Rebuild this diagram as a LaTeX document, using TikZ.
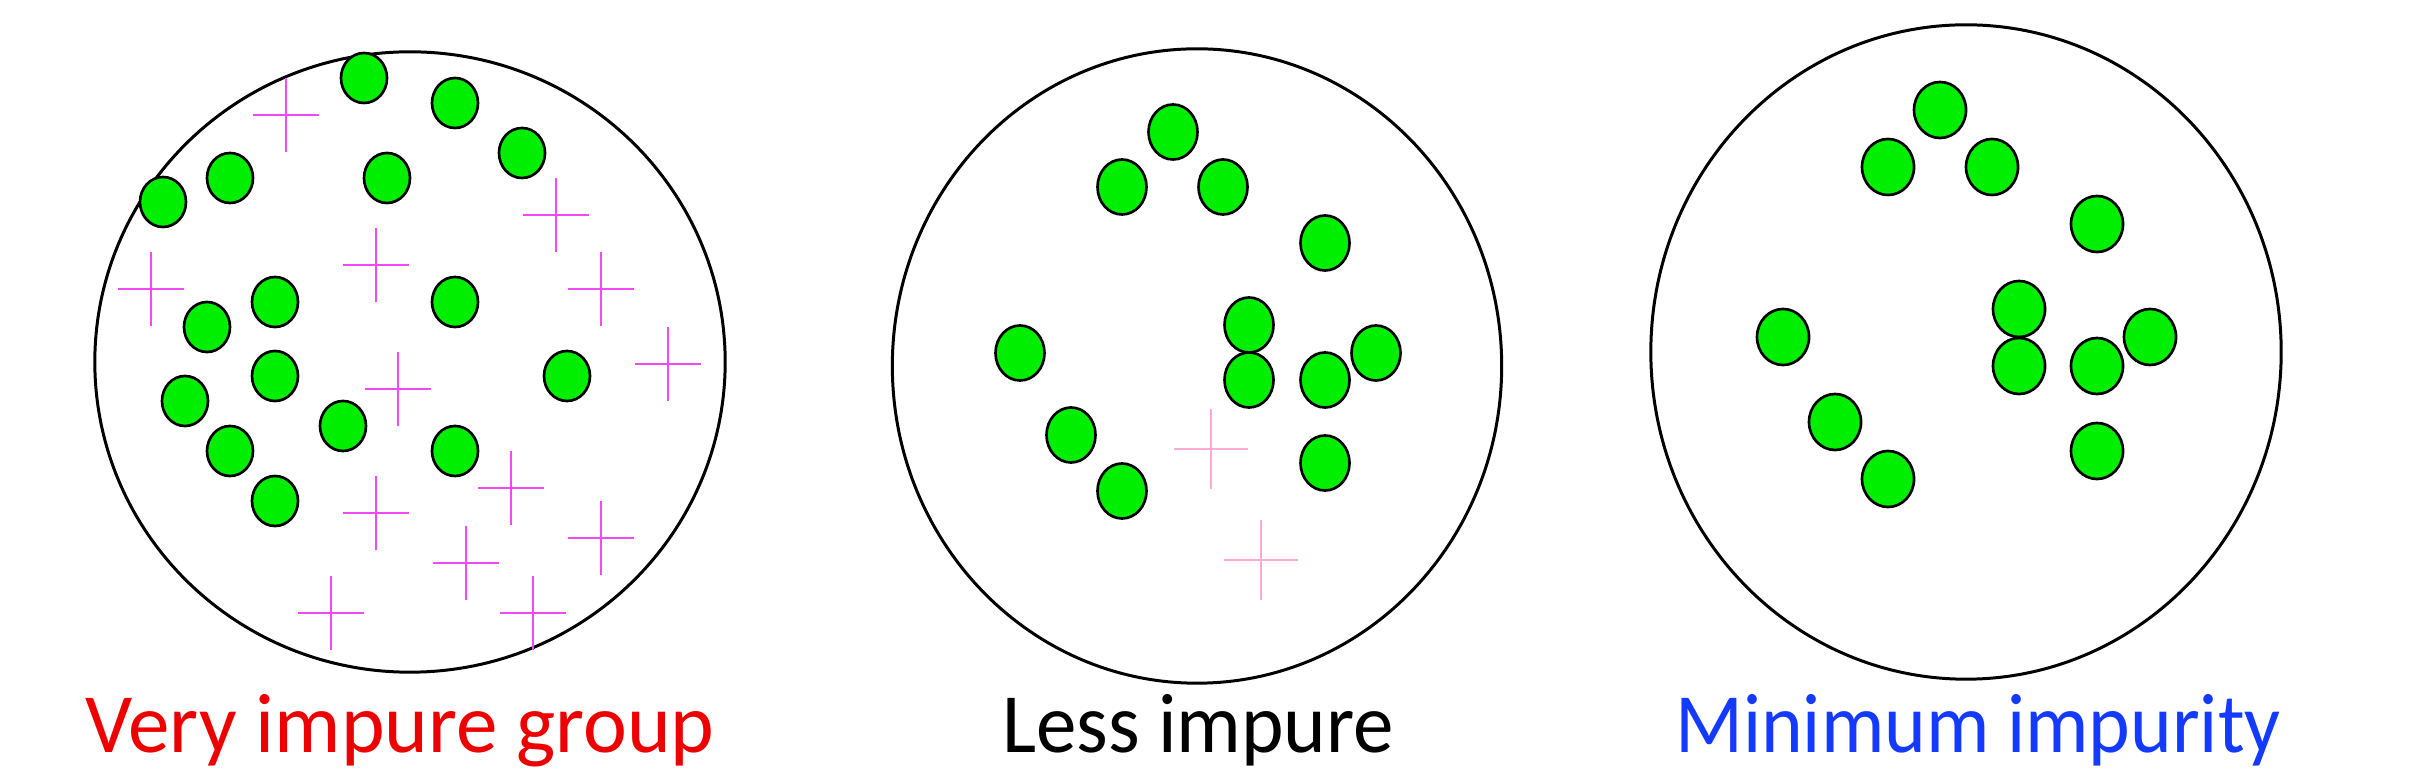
\documentclass[tikz,border=0pt]{standalone}
\usepackage{fontspec}
\setmainfont{Carlito}
\usetikzlibrary{shapes.geometric}
\definecolor{dotgreen}{RGB}{0,238,0}
\definecolor{crossmag}{RGB}{245,72,245}
\definecolor{crosspink}{RGB}{255,170,212}
\definecolor{lblred}{RGB}{236,0,0}
\definecolor{lblblue}{RGB}{20,58,255}
\begin{document}
\begin{tikzpicture}[x=0.01cm,y=-0.01cm,
  group/.style={ellipse, draw=black, line width=0.85pt, inner sep=0pt},
  dotbase/.style={ellipse, draw=black, fill=dotgreen, line width=0.75pt, inner sep=0pt},
  dotA/.style={dotbase, minimum width=0.46cm, minimum height=0.50cm},
  dotB/.style={dotbase, minimum width=0.49cm, minimum height=0.55cm},
  dotC/.style={dotbase, minimum width=0.52cm, minimum height=0.56cm},
  magplus/.pic={\draw[crossmag, line width=0.75pt] (-33,0) -- (33,0) (0,-37) -- (0,37);},
  pinkplus/.pic={\draw[crosspink, line width=0.75pt] (-37,0) -- (37,0) (0,-40) -- (0,40);},
  lbl/.style={anchor=base, inner sep=0pt, font=\fontsize{24}{29}\selectfont}]
\useasboundingbox (0,0) rectangle (2413,777);
\fill[white] (0,0) rectangle (2413,777);

% group 1
\node[group, minimum width=6.30cm, minimum height=6.20cm] (g1) at (410,362) {};
\foreach \n/\x/\y in {a/286/115, b/556/215, c/376/265, d/151/289, e/601/289, f/668/364,
  g/398/389, h/511/488, i/376/513, j/601/538, k/466/563, l/331/613, m/533/613}
  \pic (p1\n) at (\x,\y) {magplus};
\foreach \n/\x/\y in {1/364/78, 2/455/103, 3/522/153, 4/387/178, 5/230/178, 6/163/202,
  7/275/302, 8/455/302, 9/207/327, 10/275/376, 11/185/401, 12/567/376, 13/343/426,
  14/230/451, 15/455/451, 16/275/501}
  \node[dotA] (a\n) at (\x,\y) {};

% group 2
\node[group, minimum width=6.09cm, minimum height=6.34cm] (g2) at (1197,366) {};
\pic (p2a) at (1211,449) {pinkplus};
\pic (p2b) at (1261,560) {pinkplus};
\foreach \n/\x/\y in {1/1173/132, 2/1122/187, 3/1223/187, 4/1325/243, 5/1249/325,
  6/1020/353, 7/1376/353, 8/1249/380, 9/1325/380, 10/1071/435, 11/1325/463, 12/1122/491}
  \node[dotB] (b\n) at (\x,\y) {};

% group 3
\node[group, minimum width=6.30cm, minimum height=6.54cm] (g3) at (1966,352) {};
\foreach \n/\x/\y in {1/1940/110, 2/1888/167, 3/1992/167, 4/2097/224, 5/2019/309,
  6/1783/337, 7/2150/337, 8/2019/366, 9/2097/366, 10/1835/422, 11/2097/451, 12/1888/479}
  \node[dotC] (c\n) at (\x,\y) {};

% labels
\node[lbl, text=lblred] (t1) at (400,752) {\scalebox{0.985}[1]{Very impure group}};
\node[lbl, text=black] (t2) at (1198,752) {\scalebox{0.96}[1]{Less impure}};
\node[lbl, text=lblblue] (t3) at (1978,752) {\scalebox{0.94}[1]{Minimum impurity}};
\end{tikzpicture}
\end{document}
